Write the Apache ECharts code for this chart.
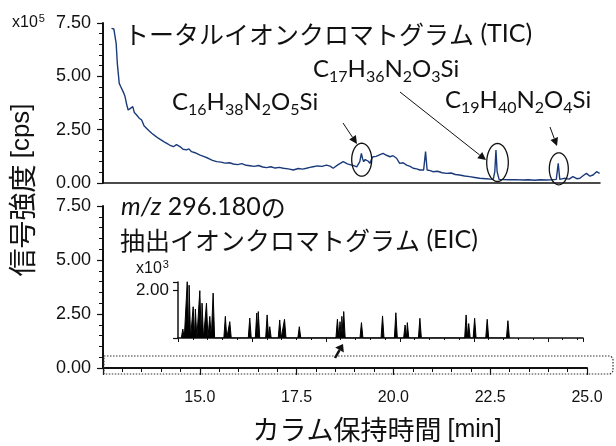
<!DOCTYPE html>
<html>
<head>
<meta charset="utf-8">
<script src="https://cdn.jsdelivr.net/npm/echarts@6/dist/echarts.min.js"></script>
<style>
  html, body { margin: 0; padding: 0; background: #fff; }
  #chart { width: 616px; height: 446px; }
</style>
</head>
<body>
<div id="chart"></div>
<script>
// TIC (x10^5 cps)
var ticTime = [12.72,12.78,12.84,12.87,12.92,12.96,13.00,13.04,13.07,13.11,13.15,13.21,13.27,13.31,13.37,13.43,13.50,13.56,13.63,13.69,13.76,13.84,13.93,14.02,14.09,14.15,14.22,14.32,14.40,14.45,14.51,14.57,14.66,14.72,14.79,14.88,15.01,15.10,15.22,15.33,15.44,15.55,15.66,15.77,15.87,15.98,16.09,16.20,16.30,16.41,16.52,16.63,16.73,16.84,16.95,17.06,17.16,17.29,17.42,17.55,17.66,17.76,17.85,17.93,18.05,18.16,18.28,18.37,18.45,18.58,18.71,18.82,18.93,19.00,19.06,19.14,19.18,19.21,19.24,19.28,19.31,19.36,19.40,19.44,19.48,19.56,19.65,19.74,19.83,19.92,20.00,20.09,20.17,20.26,20.35,20.44,20.52,20.61,20.69,20.79,20.84,20.88,20.96,21.03,21.15,21.27,21.38,21.50,21.61,21.72,21.85,21.98,22.11,22.24,22.40,22.52,22.59,22.63,22.66,22.69,22.74,22.85,23.00,23.15,23.36,23.50,23.66,23.80,23.96,24.10,24.22,24.27,24.31,24.42,24.55,24.65,24.75,24.83,24.92,25.00,25.09,25.17,25.26,25.34];
var ticValue = [7.25,7.22,6.55,5.61,4.67,4.51,4.60,4.20,4.05,3.70,3.42,3.50,3.58,3.30,3.19,3.05,2.95,2.68,2.56,2.45,2.33,2.22,2.10,2.00,1.92,1.86,1.78,1.70,1.80,1.86,1.68,1.58,1.55,1.60,1.47,1.42,1.31,1.25,1.16,1.06,1.00,0.98,0.93,0.95,0.89,0.86,0.91,0.83,0.81,0.78,0.82,0.75,0.72,0.76,0.70,0.73,0.69,0.66,0.61,0.68,0.65,0.69,0.73,0.76,0.80,0.78,0.84,0.79,0.69,0.86,1.00,0.90,0.84,0.80,0.76,1.00,1.39,1.15,1.00,1.10,1.16,1.02,0.92,1.10,1.23,1.25,1.32,1.39,1.30,1.23,1.28,1.16,0.92,0.95,0.84,0.78,0.69,0.66,0.61,0.61,1.47,0.61,0.58,0.53,0.55,0.48,0.45,0.47,0.40,0.375,0.33,0.30,0.26,0.22,0.20,0.18,0.17,0.53,1.55,0.53,0.17,0.16,0.15,0.16,0.14,0.15,0.13,0.15,0.14,0.15,0.17,0.92,0.17,0.22,0.18,0.30,0.20,0.22,0.35,0.45,0.32,0.375,0.53,0.45];

// EIC inset peaks (x10^3 cps)
var eicPeakTime = [14.13,14.25,14.30,14.41,14.47,14.59,14.65,14.77,14.86,14.95,15.28,15.40,15.94,16.13,16.17,16.41,16.48,16.75,16.88,17.28,18.31,18.38,18.43,18.48,18.96,19.53,19.89,20.14,20.20,20.54,21.79,21.86,22.02,22.36,22.92];
var eicPeakHeight = [0.37,2.35,2.20,1.30,1.20,1.97,1.45,1.45,0.90,1.87,0.90,0.68,0.83,1.04,1.10,0.96,0.47,0.75,0.78,0.47,0.78,0.68,0.90,1.10,0.64,0.92,1.05,0.54,0.64,0.82,0.96,0.60,0.82,0.78,0.72];

var xTicks = [12.5, 15.0, 17.5, 20.0, 22.5, 25.0];
var yTicks = [0, 2.5, 5.0, 7.5];

var ticData = ticTime.map(function (t, i) { return [t, ticValue[i]]; });
var halfW = 0.04;
var eicData = [];
eicPeakTime.forEach(function (t, i) {
  eicData.push([t - halfW, 0], [t, eicPeakHeight[i]], [t + halfW, 0]);
});

var LAT = 'Lato, "Noto Sans", sans-serif';
var JP = '"Noto Sans CJK JP", sans-serif';
var ARIAL = '"Liberation Sans", Arial, sans-serif';
var INK = '#111';
var CLEAR = 'rgba(0,0,0,0)';

function yAxisBase(grid) {
  return {
    gridIndex: grid, type: 'value', position: 'left',
    min: yTicks[0], max: yTicks[yTicks.length - 1], interval: 2.5,
    axisLine: { show: true, onZero: false, lineStyle: { color: INK, width: 2 } },
    axisTick: { show: true, length: 6, lineStyle: { color: INK, width: 1.2 } },
    minorTick: { show: true, splitNumber: 5, length: 4, lineStyle: { color: INK, width: 1 } },
    axisLabel: { fontFamily: ARIAL, fontSize: 18, color: INK, margin: 12,
      formatter: function (v) { return v.toFixed(2); } },
    splitLine: { show: false }
  };
}

function ellipse(cx, cy, rx, ry) {
  var pts = [];
  for (var k = 0; k < 48; k++) {
    var a = k / 48 * Math.PI * 2;
    pts.push([cx + rx * Math.cos(a), cy + ry * Math.sin(a)]);
  }
  return { type: 'polygon', shape: { points: pts }, style: { fill: 'none', stroke: INK, lineWidth: 1.3 }, z: 20 };
}

function arrow(x1, y1, x2, y2, len, w, lw) {
  var dx = x2 - x1, dy = y2 - y1, d = Math.sqrt(dx * dx + dy * dy);
  var ux = dx / d, uy = dy / d;
  var bx = x2 - ux * len, by = y2 - uy * len;
  return [
    { type: 'line', shape: { x1: x1, y1: y1, x2: bx, y2: by }, style: { stroke: INK, lineWidth: lw }, z: 20 },
    { type: 'polygon', shape: { points: [[x2, y2], [bx - uy * w, by + ux * w], [bx + uy * w, by - ux * w]] }, style: { fill: INK }, z: 20 }
  ];
}

function formula(x, y, parts) {
  var rich = {
    m: { fontFamily: LAT, fontSize: 24, fill: INK, verticalAlign: 'bottom', padding: [0, 0, 4, 0] },
    s: { fontFamily: LAT, fontSize: 16, fill: INK, verticalAlign: 'bottom' }
  };
  var txt = parts.map(function (p, i) { return '{' + (i % 2 ? 's' : 'm') + '|' + p + '}'; }).join('');
  return { type: 'text', x: x, y: y, style: { text: txt, rich: rich, textVerticalAlign: 'middle' }, z: 20 };
}

function power(x, y, exp) {
  return { type: 'text', x: x, y: y, style: { text: '{a|x10}{b|' + exp + '}', rich: {
    a: { fontFamily: ARIAL, fontSize: 16, fill: INK, verticalAlign: 'bottom' },
    b: { fontFamily: ARIAL, fontSize: 11, fill: INK, verticalAlign: 'bottom', padding: [0, 0, 7, 1] } }, textVerticalAlign: 'middle' } };
}

var graphics = [
  power(12, 22, '5'),
  { type: 'text', x: 124, y: 34, style: { text: '{j|トータルイオンクロマトグラム}{l| (TIC)}', rich: { j: { fontFamily: JP, fontSize: 25, fill: INK }, l: { fontFamily: LAT, fontSize: 25, fill: INK } }, textVerticalAlign: 'middle' } },
  formula(172, 104, ['C', '16', 'H', '38', 'N', '2', 'O', '5', 'Si']),
  formula(313, 71, ['C', '17', 'H', '36', 'N', '2', 'O', '3', 'Si']),
  formula(445, 102, ['C', '19', 'H', '40', 'N', '2', 'O', '4', 'Si']),
  ellipse(361.7, 159.7, 10, 16.5),
  ellipse(497.5, 162.5, 10.8, 19),
  ellipse(558.8, 168.8, 9.5, 16),
  { type: 'text', x: 121, y: 207, style: { text: '{i|m/z}{l| 296.180}{j|の}', rich: { i: { fontFamily: LAT, fontStyle: 'italic', fontSize: 25, fill: INK }, l: { fontFamily: LAT, fontSize: 25, fill: INK }, j: { fontFamily: JP, fontSize: 25, fill: INK } }, textVerticalAlign: 'middle' } },
  { type: 'text', x: 120, y: 240, style: { text: '{j|抽出イオンクロマトグラム}{l| (EIC)}', rich: { j: { fontFamily: JP, fontSize: 25, fill: INK }, l: { fontFamily: LAT, fontSize: 25, fill: INK } }, textVerticalAlign: 'middle' } },
  power(136, 268, '3'),
  { type: 'rect', shape: { x: 104, y: 356, width: 509, height: 18, r: [0, 4, 4, 0] }, style: { fill: 'none', stroke: '#333', lineWidth: 1.2, lineDash: [1.5, 1.5] }, z: 5 },
  { type: 'text', x: 22, y: 190, rotation: Math.PI / 2, style: { text: '{j|信号強度 }{l|[cps]}', rich: { j: { fontFamily: JP, fontSize: 28, fill: INK }, l: { fontFamily: ARIAL, fontSize: 26, fill: INK } }, textAlign: 'center', textVerticalAlign: 'middle' } },
  { type: 'text', x: 377, y: 430, style: { text: '{j|カラム保持時間 }{l|[min]}', rich: { j: { fontFamily: JP, fontSize: 27, fill: INK }, l: { fontFamily: ARIAL, fontSize: 25, fill: INK } }, textAlign: 'center', textVerticalAlign: 'middle' } }
]
  .concat(arrow(343, 123, 357, 144, 8, 4, 1))
  .concat(arrow(400, 92, 486, 160, 8, 4, 1))
  .concat(arrow(550, 127, 557, 146, 8, 4, 1))
  .concat(arrow(335, 358, 343, 344, 7, 5, 2.5));

var option = {
  animation: false,
  backgroundColor: '#fff',
  grid: [
    { left: 103, top: 23, width: 497, height: 160 },
    { left: 103, top: 206, width: 484, height: 162 },
    { left: 178, top: 282, width: 405, height: 56 }
  ],
  xAxis: [
    // top panel: only the baseline is visible; ticks and labels kept but transparent
    { gridIndex: 0, type: 'value', position: 'bottom', min: 12.5, max: 25.35, interval: 2.5,
      axisLine: { show: true, onZero: false, lineStyle: { color: INK, width: 1.5 } },
      axisTick: { show: true, length: 1, lineStyle: { color: CLEAR } },
      axisLabel: { show: true, color: CLEAR, fontSize: 8 }, splitLine: { show: false } },
    { gridIndex: 1, type: 'value', position: 'bottom', min: xTicks[0], max: xTicks[xTicks.length - 1], interval: 2.5,
      axisLine: { show: true, onZero: false, lineStyle: { color: INK, width: 2 } },
      axisTick: { show: true, length: 7, lineStyle: { color: INK, width: 1.2 } },
      minorTick: { show: true, splitNumber: 5, length: 4, lineStyle: { color: INK, width: 1 } },
      axisLabel: { fontFamily: ARIAL, fontSize: 16, margin: 22,
        color: function (v) { return Number(v) === xTicks[0] ? CLEAR : INK; },
        formatter: function (v) { return v.toFixed(1); } },
      splitLine: { show: false } },
    { gridIndex: 2, type: 'value', position: 'bottom', min: 14, max: 24.95, interval: 2,
      axisLine: { show: true, onZero: false, lineStyle: { color: INK, width: 1.5 } },
      axisTick: { show: true, length: 4, lineStyle: { color: INK, width: 1 } },
      minorTick: { show: true, splitNumber: 5, length: 2, lineStyle: { color: INK, width: 1 } },
      axisLabel: { show: true, color: CLEAR, fontSize: 8 }, splitLine: { show: false } }
  ],
  yAxis: [
    yAxisBase(0),
    yAxisBase(1),
    { gridIndex: 2, type: 'value', position: 'left', min: 0, max: 2.33, interval: 2,
      axisLine: { show: true, onZero: false, lineStyle: { color: INK, width: 1.5 } },
      axisTick: { show: true, length: 5, lineStyle: { color: INK, width: 1.2 } },
      axisLabel: { fontFamily: ARIAL, fontSize: 17, color: INK, margin: 9,
        formatter: function (v) { return v === 2 ? '2.00' : ''; } },
      splitLine: { show: false } }
  ],
  series: [
    { type: 'line', xAxisIndex: 0, yAxisIndex: 0, data: ticData, showSymbol: false,
      lineStyle: { color: '#1b3a7a', width: 1.4 }, z: 3 },
    { type: 'line', xAxisIndex: 2, yAxisIndex: 2, data: eicData, showSymbol: false,
      lineStyle: { color: '#000', width: 1 }, areaStyle: { color: '#000', opacity: 1 }, z: 3 }
  ],
  graphic: graphics
};

var chart = echarts.init(document.getElementById('chart'), null, { renderer: 'canvas' });
chart.setOption(option);
</script>
</body>
</html>
